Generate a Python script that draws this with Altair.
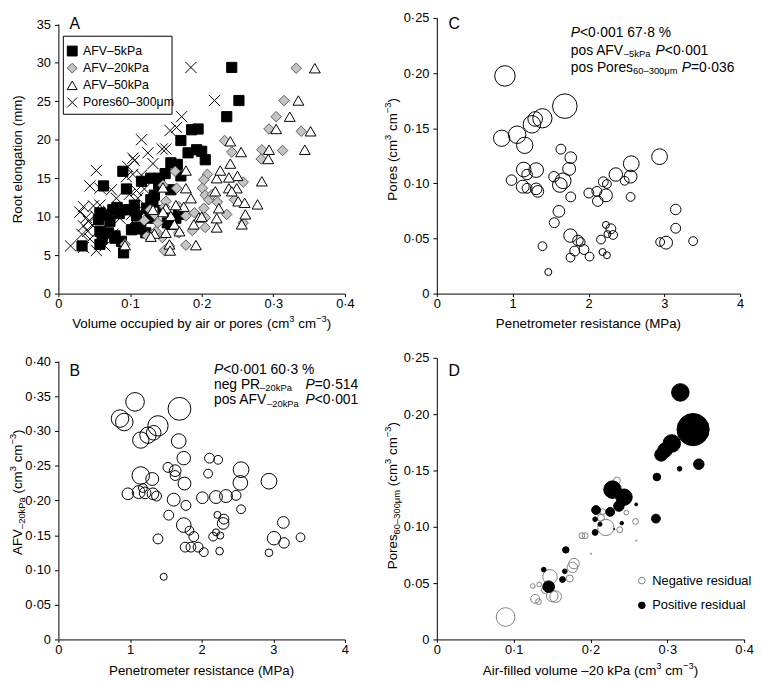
import altair as alt
import pandas as pd

FONT = "Liberation Sans"

# ---------------- Panel A : root elongation vs volume ----------------
SERIES = ["AFV–5kPa", "AFV–20kPa", "AFV–50kPa", "Pores60–300μm"]
sq_x = [0.242,0.252,0.235,0.186,0.195,0.171,0.181,0.193,0.200,0.205,0.157,0.166,0.149,0.171,0.090,
        0.063,0.095,0.116,0.129,0.141,0.157,0.134,0.129,0.123,0.076,0.088,0.099,0.058,0.056,0.072,
        0.109,0.058,0.070,0.079,0.088,0.109,0.102,0.033,0.058,0.122,0.091,0.128,0.164,0.152,0.168,
        0.132,0.106,0.082,0.069,0.115,0.061,0.079,0.146,0.158,0.085,0.140]
sq_y = [29.4,25.1,23.0,21.3,21.4,19.9,18.3,18.7,18.5,17.4,17.0,16.8,15.6,15.3,15.9,
        14.0,13.6,14.6,15.0,15.0,13.5,12.8,12.2,11.1,10.9,10.9,10.9,10.5,9.6,9.4,
        10.1,8.1,7.9,7.5,6.8,8.6,8.3,6.2,6.4,7.9,5.3,9.8,9.8,9.2,10.3,
        11.9,11.5,11.2,10.2,8.4,7.1,7.2,10.8,9.0,10.4,14.2]
di_x = [0.332,0.315,0.304,0.294,0.339,0.313,0.284,0.283,0.232,0.242,0.163,0.165,0.208,0.203,0.201,
        0.258,0.205,0.210,0.246,0.203,0.235,0.258,0.168,0.148,0.178,0.187,0.205,0.145,0.178,0.148,
        0.139,0.134,0.146,0.093,0.136,0.150,0.205,0.124,0.155,0.222,0.190,0.168,0.120,0.128,0.215]
di_y = [29.3,25.1,23.0,21.4,21.1,18.6,18.7,17.5,19.9,18.4,15.9,13.7,15.5,14.8,13.7,
        14.5,12.8,12.2,12.2,11.1,10.3,9.2,11.3,11.3,10.1,8.2,8.6,7.3,6.3,5.6,
        9.2,10.3,14.1,6.4,8.1,12.0,9.9,7.5,6.2,11.9,10.5,7.9,9.5,10.9,12.9]
tr_x = [0.358,0.335,0.323,0.352,0.344,0.294,0.293,0.304,0.240,0.255,0.284,0.278,0.240,0.250,0.178,
        0.238,0.221,0.238,0.219,0.251,0.260,0.261,0.256,0.224,0.221,0.221,0.196,0.189,0.175,0.150,
        0.157,0.162,0.155,0.192,0.156,0.134,0.150,0.169,0.178,0.146,0.093,0.129,0.132,0.146,0.164,
        0.249,0.242,0.226,0.200,0.185]
tr_y = [29.3,25.1,23.0,21.1,18.7,18.7,17.5,21.4,19.8,18.4,14.6,11.6,16.9,15.3,16.0,
        15.1,15.0,13.7,13.3,12.0,11.8,10.3,9.0,11.1,9.8,8.6,9.9,9.0,11.3,11.1,
        10.1,9.0,6.4,6.3,5.6,7.8,7.9,8.1,13.7,13.8,6.3,7.4,10.9,10.6,11.5,
        13.7,13.3,16.0,10.0,12.4]
cr_x = [0.185,0.218,0.172,0.165,0.156,0.145,0.150,0.116,0.125,0.132,0.104,0.106,0.053,0.097,0.095,
        0.104,0.116,0.044,0.058,0.074,0.120,0.109,0.111,0.099,0.049,0.030,0.039,0.042,0.035,0.041,
        0.033,0.044,0.017,0.035,0.053,0.065,0.076,0.086,0.102,0.106,0.070,0.058,0.081,0.111,0.035,
        0.118,0.047,0.052]
cr_y = [29.4,25.1,23.0,21.6,21.2,18.8,18.8,20.0,18.3,16.9,17.6,17.3,16.0,16.5,15.2,
        15.5,15.4,14.0,13.7,13.5,13.6,13.4,12.4,12.9,11.4,10.6,9.9,9.4,8.8,8.1,
        7.7,7.1,6.2,6.0,5.6,6.2,7.7,9.8,10.3,9.6,10.7,11.5,12.4,10.9,11.3,
        8.6,8.9,10.1]

# ---------------- Panel B : AFV-20kPa vs penetrometer resistance ----------------
b_pr = [1.07,1.69,0.86,0.92,1.39,1.15,1.25,1.33,1.68,1.75,2.11,2.23,1.53,1.63,1.63,2.09,2.55,1.15,1.31,1.76,
        2.54,2.94,0.97,1.12,1.18,1.21,1.32,1.37,1.61,1.78,2.01,2.20,2.34,2.48,2.55,1.54,2.22,2.31,2.30,3.14,
        1.75,1.83,1.89,1.39,2.16,2.26,2.20,3.01,3.15,3.38,1.77,1.85,1.95,2.03,2.25,2.94,1.47]
b_afv = [0.342,0.332,0.318,0.313,0.3075,0.287,0.294,0.2975,0.2856,0.261,0.261,0.2586,0.2477,0.243,0.236,
         0.2387,0.2444,0.236,0.231,0.2244,0.2254,0.2278,0.2097,0.2121,0.218,0.211,0.2097,0.2064,0.2012,0.193,
         0.204,0.205,0.2064,0.2074,0.1874,0.1789,0.1793,0.1732,0.167,0.1684,0.1646,0.1566,0.148,0.1447,0.148,
         0.1495,0.1542,0.1457,0.139,0.147,0.1329,0.1329,0.1329,0.1257,0.1272,0.1248,0.0902]
b_re = [22,27,20.7,20.7,24,19.3,19.3,17.3,17.3,15.9,11.7,10.4,11.7,13.8,11.7,10.4,18.6,20.7,15.2,15.2,
        17.3,18.6,13.8,15.2,10.4,13.8,13.8,11.7,15.2,11.7,13.8,15.2,15.2,11.7,10.4,11.7,8.3,11.7,13.8,13.8,
        17.3,10.4,11.7,11.7,10.4,8.3,8.3,15.9,12.4,10.4,11.7,11.7,11.7,10.4,9.0,9.0,8.3]

# ---------------- Panel C : pores vs penetrometer resistance ----------------
c_pr = [0.898,1.688,1.392,1.297,1.254,1.059,0.855,1.159,1.636,1.766,2.937,2.564,1.745,1.146,1.31,1.19,2.36,
        2.555,1.545,1.666,0.985,2.477,2.195,2.243,1.622,1.133,1.19,1.31,1.332,2.005,2.11,2.23,2.122,1.766,
        2.555,1.61,1.549,3.15,3.15,2.23,2.295,2.325,2.25,1.762,1.861,1.896,2.165,2.945,3.023,3.38,1.393,
        1.818,1.94,1.762,2.014,2.186,2.243,1.47]
c_por = [0.1974,0.170,0.159,0.1584,0.1535,0.1441,0.1409,0.1345,0.131,0.1233,0.1242,0.1178,0.1131,0.1125,
         0.112,0.108,0.108,0.1061,0.106,0.1023,0.1029,0.1023,0.1014,0.0994,0.0985,0.097,0.0955,0.095,0.0927,
         0.0912,0.0927,0.0891,0.0839,0.0877,0.0877,0.0746,0.0643,0.0763,0.0593,0.0623,0.0588,0.0532,0.054,
         0.0526,0.0482,0.0468,0.049,0.0468,0.0462,0.0476,0.043,0.0386,0.040,0.0327,0.0336,0.0377,0.0348,0.0196]
c_re = [24.2,29,22.8,17.3,20.7,20.7,19.3,19.3,11.7,13.8,18.6,18.6,15.2,17.3,17.3,12.4,15.9,15.2,12.4,18.6,
        12.4,10.4,11.7,10.4,17.3,15.2,11.7,13.8,13.8,11.7,11.7,15.2,12.4,11.7,10.4,13.8,11.7,12.4,11.7,8.3,
        11.7,10.4,8.3,15.9,12.4,10.4,10.4,10.4,15.2,10.4,10.4,11.7,11.7,10.4,10.4,8.3,8.3,8.3]

# ---------------- Panel D : pores 60-300um vs AFV-20kPa, residuals ----------------
d_afv = [0.317,0.3336,0.3058,0.297,0.292,0.341,0.316,0.2865,0.2287,0.2437,0.237,0.2257,0.2595,0.2073,0.206,
         0.2124,0.2407,0.2852,0.206,0.1679,0.1392,0.1666,0.1636,0.1456,0.231,
         0.0895,0.2343,0.220,0.2137,0.216,0.2467,0.2587,0.2381,0.1889,0.1931,0.1786,0.1765,0.173,0.1473,
         0.125,0.1332,0.1503,0.1546,0.128,0.1323,0.1409,0.2009,0.2595]
d_pores = [0.2193,0.1863,0.174,0.168,0.164,0.1556,0.1515,0.1442,0.133,0.1263,0.1184,0.1132,0.1199,0.1149,0.1067,
           0.1023,0.1032,0.1073,0.095,0.0795,0.062,0.0605,0.0532,0.0468,0.098,
           0.0199,0.141,0.0994,0.108,0.1135,0.1126,0.1047,0.0974,0.0921,0.0921,0.0673,0.064,0.0541,0.0556,
           0.0474,0.0488,0.0386,0.038,0.036,0.0336,0.0439,0.076,0.0877]
d_res = [4.35,8.0,4.35,3.6,3.2,2.6,1.16,1.9,4.35,4.06,2.6,2.2,0.73,2.2,1.16,1.0,0.87,2.2,1.45,1.6,1.16,1.16,1.45,2.9,0.3,
         -4.64,-1.74,-4.06,-1.74,-1.45,-1.16,-1.45,-1.45,-1.45,-1.45,-2.6,-2.6,-1.74,-3.6,-1.16,-1.16,-2.9,-2.9,
         -2.2,-1.45,-1.74,-0.3,-0.3]
NEG, POS = "Negative residual", "Positive residual"

# ---------------- helpers ----------------
W = {}
for ch, w in zip("ABCDEFGHIJKLMNOPQRSTUVWXYZ",
                 [667,667,722,722,667,611,778,722,278,500,667,556,833,722,778,667,778,722,667,611,722,667,944,667,667,611]):
    W[ch] = w
for ch, w in zip("abcdefghijklmnopqrstuvwxyz",
                 [556,556,500,556,556,278,556,556,222,222,500,222,833,556,556,556,556,333,500,278,556,500,722,500,500,500]):
    W[ch] = w
for ch in "0123456789":
    W[ch] = 556
W.update({" ": 278, "(": 333, ")": 333, "-": 333, "–": 556, "−": 584, "·": 278, "%": 889,
          "<": 584, "=": 584, "μ": 576, ".": 278})

ONE = pd.DataFrame({"k": [0]})


def tw(s, size):
    return sum(W.get(c, 556) for c in s) * size / 1000.0


def T(t, s=13.5, dy=0, st="normal"):
    return (t, s, dy, st)


def rich(pieces, x, y, angle=0, center=True):
    total = sum(tw(t, s) for t, s, _, _ in pieces)
    cum = -total / 2 if center else 0.0
    out = []
    for t, s, dy, st in pieces:
        lead = len(t) - len(t.lstrip(" "))
        cum += tw(" " * lead, s)
        body = t.strip(" ")
        out.append(alt.Chart(ONE).mark_text(text=body, align="left", baseline="middle",
                                            dx=cum, dy=dy, angle=angle, fontSize=s, fontStyle=st, font=FONT,
                                            color="black").encode(x=x, y=y))
        cum += tw(t.lstrip(" "), s)
    return out


def X(v):
    return alt.XDatum(v)


def Y(v):
    return alt.YDatum(v)


def ax(values, expr=None, hide_domain=False):
    kw = dict(values=values, title=None, grid=False, labelFlush=False, labelOverlap=False,
              tickCount=len(values))
    if expr:
        kw["labelExpr"] = expr
    if hide_domain:
        kw["domainOpacity"] = 0
    return alt.Axis(**kw)


E0 = "format(datum.value, 'd')"
E1 = "datum.value == 0 ? '0' : replace(format(datum.value, '.1f'), '.', '·')"
E2 = "datum.value == 0 ? '0' : replace(format(datum.value, '.2f'), '.', '·')"
TAIL_Y = [T(" (cm"), T("3", 9.5, -4.5), T(" cm"), T("−3", 9.5, -4.5), T(")")]
TAIL_X = [T(" (cm"), T("3", 9.5, -5), T(" cm"), T("−3", 9.5, -5), T(")")]
SUB = 3.5   # subscript drop in annotations

H1, H2 = 279, 285
A_YMAX = 35.835
B_YMAX = 0.4054
YL = -41.0    # left column y-title centre (px from plot)
YR = -44.5    # right column y-title centre

# ---------------- Panel A ----------------
SHAPES = ["square", "diamond", "triangle-up", "M-1,-1L1,1M-1,1L1,-1"]
FILLS = ["black", "#c4c4c4", "white", "transparent"]
STROKES = ["black", "#5a5a5a", "black", "black"]
SIZES = [106, 128, 137, 81]
dfA = pd.concat([pd.DataFrame({"x": xs, "y": ys, "series": s})
                 for xs, ys, s in zip([sq_x, di_x, tr_x, cr_x], [sq_y, di_y, tr_y, cr_y], SERIES)],
                ignore_index=True)
pointsA = alt.Chart(dfA).mark_point(opacity=1, strokeWidth=1).encode(
    x=alt.X("x:Q", scale=alt.Scale(domain=[0, 0.4], nice=False), axis=ax([0, 0.1, 0.2, 0.3, 0.4], E1)),
    y=alt.Y("y:Q", scale=alt.Scale(domain=[0, A_YMAX], nice=False),
            axis=ax([0, 5, 10, 15, 20, 25, 30, 35], E0, hide_domain=True)),
    shape=alt.Shape("series:N", scale=alt.Scale(domain=SERIES, range=SHAPES), legend=None),
    fill=alt.Fill("series:N", scale=alt.Scale(domain=SERIES, range=FILLS), legend=None),
    stroke=alt.Stroke("series:N", scale=alt.Scale(domain=SERIES, range=STROKES), legend=None),
    size=alt.Size("series:O", scale=alt.Scale(domain=SERIES, range=SIZES), legend=None),
)
ruleA = alt.Chart(ONE).mark_rule(color="black", strokeWidth=1).encode(
    x=alt.value(0.5), y=alt.value(H1 * (1 - 35 / A_YMAX)), y2=alt.value(H1))

# legend box for panel A
legA = [alt.Chart(ONE).mark_rect(fill="white", stroke="black", strokeWidth=1).encode(
    x=alt.value(5), x2=alt.value(115), y=alt.value(18.5), y2=alt.value(97.5))]
LEG_ROWS = [33.5, 50.8, 68.2, 85.5]
for s, shp, fl, st, ry in zip(SERIES, SHAPES, FILLS, STROKES, LEG_ROWS):
    legA.append(alt.Chart(ONE).mark_point(shape=shp, fill=fl, stroke=st, size=100, strokeWidth=1,
                                          opacity=1).encode(x=alt.value(14), y=alt.value(ry)))
    legA.append(alt.Chart(ONE).mark_text(text=s, align="left", baseline="middle", fontSize=12.5, font=FONT,
                                         color="black").encode(x=alt.value(25), y=alt.value(ry)))

A = alt.layer(
    pointsA, ruleA, *legA,
    *rich([T("Root elongation (mm)")], alt.value(YL), alt.value(143), angle=270),
    *rich([T("Volume occupied by air or pores")] + TAIL_X, alt.value(145), alt.value(310)),
    *rich([T("A", 16)], X(0.0228), Y(35)),
).properties(width=290, height=H1)

# ---------------- Panel B ----------------
dfB = pd.DataFrame({"pr": b_pr, "v": b_afv, "re": b_re})
SZ_RE = alt.Scale(type="pow", exponent=2, domain=[0, 30], range=[0, 660])
pointsB = alt.Chart(dfB).mark_point(shape="circle", filled=False, color="black", strokeWidth=1, opacity=1).encode(
    x=alt.X("pr:Q", scale=alt.Scale(domain=[0, 4], nice=False), axis=ax([0, 1, 2, 3, 4], E0)),
    y=alt.Y("v:Q", scale=alt.Scale(domain=[0, B_YMAX], nice=False),
            axis=ax([0, 0.05, 0.1, 0.15, 0.2, 0.25, 0.3, 0.35, 0.4], E2, hide_domain=True)),
    size=alt.Size("re:Q", scale=SZ_RE, legend=None),
)
ruleB = alt.Chart(ONE).mark_rule(color="black", strokeWidth=1).encode(
    x=alt.value(0.5), y=alt.value(H2 * (1 - 0.4 / B_YMAX)), y2=alt.value(H2))
B = alt.layer(
    pointsB, ruleB,
    *rich([T("AFV"), T("–20kPa", 9.5, 4)] + TAIL_Y, alt.value(YL), alt.value(136), angle=270),
    *rich([T("Penetrometer resistance (MPa)")], alt.value(145), alt.value(316.5)),
    *rich([T("B", 16)], X(0.23), Y(0.386)),
    *rich([T("P", 14, 0, "italic"), T("<0·001 60·3 %", 14)], X(2.172), Y(0.3885), center=False),
    *rich([T("neg PR", 14), T("–20kPa", 9.5, SUB)], X(2.172), Y(0.3665), center=False),
    *rich([T("P", 14, 0, "italic"), T("=0·514", 14)], X(3.45), Y(0.3665), center=False),
    *rich([T("pos AFV", 14), T("–20kPa", 9.5, SUB)], X(2.172), Y(0.3445), center=False),
    *rich([T("P", 14, 0, "italic"), T("<0·001", 14)], X(3.45), Y(0.3445), center=False),
).properties(width=290, height=H2)

# ---------------- Panel C ----------------
dfC = pd.DataFrame({"pr": c_pr, "v": c_por, "re": c_re})
pointsC = alt.Chart(dfC).mark_point(shape="circle", filled=False, color="black", strokeWidth=1, opacity=1).encode(
    x=alt.X("pr:Q", scale=alt.Scale(domain=[0, 4], nice=False), axis=ax([0, 1, 2, 3, 4], E0)),
    y=alt.Y("v:Q", scale=alt.Scale(domain=[0, 0.25], nice=False),
            axis=ax([0, 0.05, 0.1, 0.15, 0.2, 0.25], E2)),
    size=alt.Size("re:Q", scale=SZ_RE, legend=None),
)
C = alt.layer(
    pointsC,
    *rich([T("Pores")] + TAIL_Y, alt.value(YR), alt.value(133), angle=270),
    *rich([T("Penetrometer resistance (MPa)")], alt.value(153.5), alt.value(310)),
    *rich([T("C", 16)], X(0.23), Y(0.244)),
    *rich([T("P", 14, 0, "italic"), T("<0·001 67·8 %", 14)], X(1.766), Y(0.2362), center=False),
    *rich([T("pos AFV", 14), T("–5kPa", 9.5, SUB)], X(1.766), Y(0.2202), center=False),
    *rich([T("P", 14, 0, "italic"), T("<0·001", 14)], X(2.885), Y(0.2202), center=False),
    *rich([T("pos Pores", 14), T("60–300μm", 9.5, SUB)], X(1.766), Y(0.2046), center=False),
    *rich([T("P", 14, 0, "italic"), T("=0·036", 14)], X(3.23), Y(0.2046), center=False),
).properties(width=307, height=H1)

# ---------------- Panel D ----------------
dfD = pd.DataFrame({"afv": d_afv, "pores": d_pores, "res": d_res})
dfD["absres"] = dfD["res"].abs()
dfD["sign"] = [POS if r > 0 else NEG for r in dfD["res"]]
dfD = pd.concat([dfD[dfD["res"] < 0], dfD[dfD["res"] > 0]], ignore_index=True)
LEG_D = alt.Legend(title=None, orient="none", legendX=201, legendY=219, direction="vertical", padding=0,
                   symbolSize=45, symbolStrokeWidth=1, symbolType="circle", labelFontSize=13, labelFont=FONT,
                   labelColor="black", rowPadding=11, labelOffset=4)
pointsD = alt.Chart(dfD).mark_point(shape="circle", opacity=1, strokeWidth=1).encode(
    x=alt.X("afv:Q", scale=alt.Scale(domain=[0, 0.4], nice=False), axis=ax([0, 0.1, 0.2, 0.3, 0.4], E1)),
    y=alt.Y("pores:Q", scale=alt.Scale(domain=[0, 0.25], nice=False),
            axis=ax([0, 0.05, 0.1, 0.15, 0.2, 0.25], E2)),
    size=alt.Size("absres:Q", scale=alt.Scale(type="pow", exponent=2, domain=[0, 8], range=[0, 1064]),
                  legend=None),
    fill=alt.Fill("sign:N", scale=alt.Scale(domain=[NEG, POS], range=["transparent", "black"]), legend=LEG_D),
    stroke=alt.Stroke("sign:N", scale=alt.Scale(domain=[NEG, POS], range=["#808080", "black"]), legend=LEG_D),
)
D = alt.layer(
    pointsD,
    *rich([T("Pores"), T("60–300μm", 9.5, 4)] + TAIL_Y, alt.value(YR), alt.value(139.5), angle=270),
    *rich([T("Air-filled volume –20 kPa")] + TAIL_X, alt.value(155.5), alt.value(316.5)),
    *rich([T("D", 16)], X(0.0227), Y(0.238)),
).properties(width=311, height=H2)

chart = alt.concat(A, C, B, D, columns=2, spacing={"row": 65, "column": 93}, bounds="flush",
                   padding=0).resolve_scale(
    fill="independent", stroke="independent", shape="independent", size="independent").configure(
    font=FONT, background="white").configure_view(stroke=None).configure_axis(
    domainColor="black", tickColor="black", labelColor="black", labelFontSize=13, labelFont=FONT,
    domainWidth=1, tickWidth=1).configure_axisX(tickSize=3, labelPadding=1).configure_axisY(
    tickSize=4, labelPadding=4)

chart.save("out.html", embed_options={"renderer": "svg", "actions": False})
